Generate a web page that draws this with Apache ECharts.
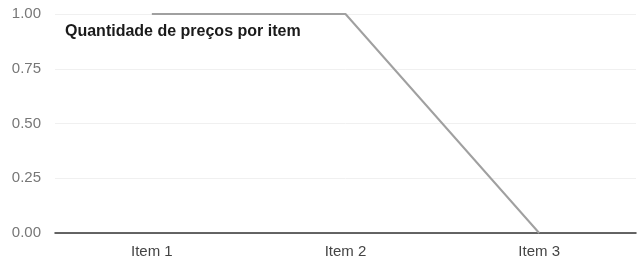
<!DOCTYPE html>
<html lang="pt">
<head>
    <meta charset="UTF-8">
    <title>Quantidade de preços por item</title>
</head>
<body style="margin: 0">
<div id="container" style="height: 262px; width: 639px;"></div>
<script type="text/javascript" src="https://cdn.jsdelivr.net/npm/echarts@6/dist/echarts.min.js"></script>
<script type="text/javascript">
    const categories = ['Item 1', 'Item 2', 'Item 3'];
    const values = [1, 1, 0];
    const yTicks = [0, 0.25, 0.5, 0.75, 1];

    const myChart = echarts.init(document.getElementById('container'), null, {renderer: 'canvas'});

    const option = {
        animation: false,
        backgroundColor: '#fff',
        title: {
            text: 'Quantidade de preços por item',
            left: 60,
            top: 19,
            textStyle: {
                fontFamily: 'Liberation Sans, Arial, sans-serif',
                fontSize: 16,
                fontWeight: 'bold',
                color: '#1a1a1a'
            }
        },
        grid: {left: 55, right: 3, top: 14, bottom: 29},
        xAxis: {
            type: 'category',
            data: categories,
            boundaryGap: true,
            axisTick: {show: false},
            axisLine: {lineStyle: {color: '#333', width: 1.5}},
            axisLabel: {
                color: '#444',
                fontSize: 15,
                margin: 11,
                fontFamily: 'Liberation Sans, Arial, sans-serif'
            }
        },
        yAxis: {
            type: 'value',
            min: yTicks[0],
            max: yTicks[yTicks.length - 1],
            interval: 0.25,
            axisLine: {show: false},
            axisTick: {show: false},
            splitLine: {lineStyle: {color: '#f0f0f0', width: 1}},
            axisLabel: {
                color: '#777',
                fontSize: 15,
                margin: 14,
                fontFamily: 'Liberation Sans, Arial, sans-serif',
                formatter: function (v) {
                    return v.toFixed(2);
                }
            }
        },
        series: [
            {
                type: 'line',
                data: values,
                symbol: 'none',
                lineStyle: {color: '#a0a0a0', width: 2}
            }
        ]
    };
    myChart.setOption(option);
</script>
</body>
</html>
